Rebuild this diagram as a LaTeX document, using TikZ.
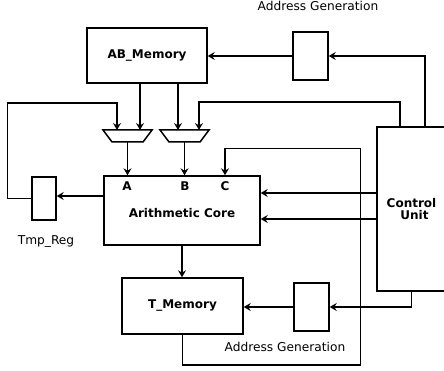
\documentclass[tikz,border=0pt]{standalone}
\usepackage{fontspec}
\setmainfont{DejaVu Sans}
\usetikzlibrary{arrows.meta, shapes.geometric, positioning, calc}

\tikzset{
  blk/.style   = {draw, line width=1.5pt, inner sep=0pt,
                  font=\fontsize{12}{14}\selectfont\bfseries},
  lbl/.style   = {font=\fontsize{12}{14}\selectfont\bfseries},
  wire/.style  = {line width=1.5pt},
  arr/.style   = {wire, -{Stealth[length=7pt, width=8pt, inset=2.5pt]}},
  note/.style  = {font=\fontsize{12.2}{14}\selectfont}
}
% mux drawn as a trapezium, #1 = centre x
\newcommand{\muxshape}[2]{%
  \draw[wire, line join=miter] (#1-24.5,130) -- (#1+24.5,130) -- (#1+15.5,142)
        -- (#1-15.5,142) -- cycle;
  \coordinate (#2) at (#1,142);}

\begin{document}
\begin{tikzpicture}[x=1pt, y=-1pt]
  \useasboundingbox (0,0) rectangle (444,371);

  % blocks
  \node[blk, minimum width=120pt, minimum height=55pt] (abmem) at (147,55.5) {AB\_Memory};
  \node[blk, minimum width=35pt, minimum height=48pt]  (agtop) at (310.5,56) {};
  \node[blk, minimum width=156pt, minimum height=69pt] (core) at (182,210.5) {};
  \node[blk, minimum width=24pt, minimum height=43pt]  (tmpreg) at (44,198.5) {};
  \node[blk, minimum width=69pt, minimum height=164pt, align=center] (ctrl) at (411.5,209)
       {Control\\[-2pt]\hspace*{6pt}Unit};
  \node[blk, minimum width=121pt, minimum height=56pt] (tmem) at (182.5,306) {T\_Memory};
  \node[blk, minimum width=35pt, minimum height=48pt]  (agbot) at (311.5,307) {};
  \muxshape{127.5}{muxaout}
  \muxshape{184.5}{muxbout}

  % text
  \node[lbl] (corelbl) at (182,213) {Arithmetic Core};
  \node[lbl] (pa) at (127,186) {A};
  \node[lbl] (pb) at (185,186) {B};
  \node[lbl] (pc) at (225,186) {C};
  \node[note] (agtoplbl) at (318,6) {Address Generation};
  \node[note] (agbotlbl) at (285,347) {Address Generation};
  \node[note] (tmplbl) at (46,241) {Tmp\_Reg};

  % mux inputs
  \coordinate (ina1) at (117,130);
  \coordinate (ina2) at (140,130);
  \coordinate (inb1) at (178,130);
  \coordinate (inb2) at (199,130);
  \coordinate (inc) at ([xshift=43pt]core.north);

  % connections
  \draw[arr] (agtop.west) -- (abmem.east |- agtop.west);
  \draw[arr] ([xshift=13.5pt]ctrl.north) |- (agtop.east);
  \draw[arr] ([xshift=-11.5pt]ctrl.north) -- ++(0,-24) -| (inb2);
  \draw[arr] (abmem.south -| ina2) -- (ina2);
  \draw[arr] (abmem.south -| inb1) -- (inb1);
  \draw[arr] (tmpreg.west) -- ++(-24,0) -- ++(0,-95.5) -| (ina1);
  \draw[arr] (muxaout) -- (core.north -| muxaout);
  \draw[arr] (muxbout) -- (core.north -| muxbout);
  \draw[arr] ([yshift=14.5pt]core.west) -- ([yshift=14.5pt]core.west -| tmpreg.east);
  \draw[arr] ([yshift=17.5pt]core.east -| ctrl.west) -- ([yshift=17.5pt]core.east);
  \draw[arr] ([yshift=-8.5pt]core.east -| ctrl.west) -- ([yshift=-8.5pt]core.east);
  \draw[arr] (core.south) -- (tmem.north -| core.south);
  \draw[arr] (tmem.south) -- ++(0,30) -- ++(178,0) -- ++(0,-216) -| (inc);
  \draw[arr] (agbot.west) -- (tmem.east |- agbot.west);
  \draw[arr] (ctrl.south) |- (agbot.east);
\end{tikzpicture}
\end{document}
